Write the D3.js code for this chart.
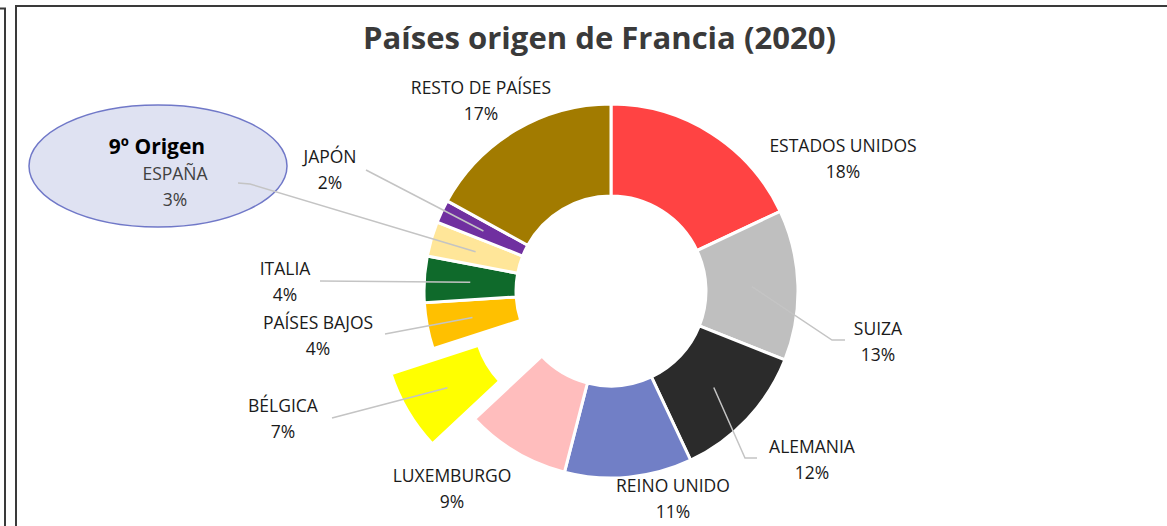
<!DOCTYPE html>
<html>
<head>
<meta charset="utf-8">
<script src="https://d3js.org/d3.v7.min.js"></script>
<style>
body { margin: 0; background: #fff; }
svg { display: block; }
</style>
</head>
<body>
<script>
var paises = ["ESTADOS UNIDOS", "SUIZA", "ALEMANIA", "REINO UNIDO", "LUXEMBURGO", "BÉLGICA", "PAÍSES BAJOS", "ITALIA", "ESPAÑA", "JAPÓN", "RESTO DE PAÍSES"];
var porcentajes = [18, 13, 12, 11, 9, 7, 4, 4, 3, 2, 17];
var colores = ["#ff4343", "#bfbfbf", "#2b2b2b", "#717fc6", "#ffbdbd", "#ffff00", "#ffc000", "#0f6a2b", "#ffe699", "#7030a0", "#a27b00"];

// label layout: [x, baseline of first line], and leader line points (null = none)
var etiquetas = [[843, 152], [878, 335], [812, 453], [673, 492], [452, 482], [283, 412], [318, 329], [285, 275], [175, 180], [330, 163], [481, 94]];
var guias = [null, [[832, 340], [845, 340]], [[745, 458], [757, 458]], null, null, [[332, 418]], [[385, 334]], [[320, 281]], [[250, 184], [238, 183]], [[366, 170]], null];
var separacion = [0, 0, 0, 0, 0, 49, 0, 0, 0, 0, 0];

function drawDonut(){
	var cx = 611, cy = 291, rOut = 187, rIn = 95;

	var svg = d3.select("body").append("svg").attr("width", 1167).attr("height", 526);

	// frames
	svg.append("path").attr("d", "M0,8.5 H5 V526").attr("fill", "none").attr("stroke", "#3a3a3a").attr("stroke-width", 2);
	svg.append("path").attr("d", "M16,526 V6 H1167").attr("fill", "none").attr("stroke", "#3a3a3a").attr("stroke-width", 2);

	svg.append("text").attr("x", 599.5).attr("y", 49)
	.attr("text-anchor", "middle")
	.attr("textLength", 473).attr("lengthAdjust", "spacingAndGlyphs")
	.style("font-family", "'Open Sans', sans-serif").style("font-weight", "bold").style("font-size", "31px")
	.style("fill", "#3a3a3a")
	.text("Países origen de Francia (2020)");

	var pie = d3.pie().sort(null).value(function(d){ return d; });
	var arcs = pie(porcentajes);
	var arc = d3.arc().innerRadius(rIn).outerRadius(rOut);

	function offset(d, i){
		var a = (d.startAngle + d.endAngle) / 2;
		return [Math.sin(a) * separacion[i], -Math.cos(a) * separacion[i]];
	}

	var g = svg.append("g").attr("transform", "translate(" + cx + "," + cy + ")");

	g.selectAll("path.slice").data(arcs).enter().append("path")
	.attr("class", "slice")
	.attr("d", arc)
	.attr("transform", function(d, i){ var o = offset(d, i); return "translate(" + o[0] + "," + o[1] + ")"; })
	.style("fill", function(d, i){ return colores[i]; })
	.style("stroke", "#fff")
	.style("stroke-width", 3);

	// callout ellipse for España
	svg.append("ellipse").attr("cx", 158).attr("cy", 166).attr("rx", 129).attr("ry", 61)
	.style("fill", "#dfe2f2").style("stroke", "#7078c8").style("stroke-width", 1.5);

	// leader lines
	var line = d3.line();
	arcs.forEach(function(d, i){
		if (!guias[i]) { return; }
		var c = arc.centroid(d), o = offset(d, i);
		var pts = [[cx + c[0] + o[0], cy + c[1] + o[1]]].concat(guias[i]);
		svg.append("path").attr("d", line(pts))
		.attr("fill", "none").attr("stroke", "#c4c4c4").attr("stroke-width", 1.5);
	});

	svg.append("text").attr("x", 157).attr("y", 154)
	.attr("text-anchor", "middle")
	.style("font-family", "'Open Sans', sans-serif").style("font-weight", "bold").style("font-size", "21px")
	.style("fill", "#000")
	.text("9º Origen");

	var labels = svg.selectAll("text.lbl").data(arcs).enter().append("text")
	.attr("class", "lbl")
	.attr("text-anchor", "middle")
	.style("font-family", "'Open Sans', sans-serif").style("font-size", "17.5px")
	.style("fill", function(d, i){ return i === 8 ? "#404040" : "#1a1a1a"; });

	labels.append("tspan")
	.attr("x", function(d, i){ return etiquetas[i][0]; })
	.attr("y", function(d, i){ return etiquetas[i][1]; })
	.text(function(d, i){ return paises[i]; });

	labels.append("tspan")
	.attr("x", function(d, i){ return etiquetas[i][0]; })
	.attr("y", function(d, i){ return etiquetas[i][1] + 26; })
	.text(function(d){ return d.data + "%"; });
}

drawDonut();
</script>
</body>
</html>
